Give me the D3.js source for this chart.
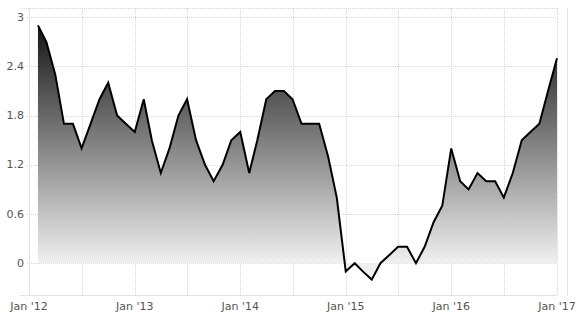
<!DOCTYPE html>
<html>
<head>
<meta charset="utf-8">
<script src="https://cdn.jsdelivr.net/npm/d3@7"></script>
<style>
    body { margin: 0; background: #fff; }
    svg text { font-family: "DejaVu Sans", sans-serif; font-size: 11px; fill: #555; }
</style>
</head>
<body>
<div id="chart"></div>
<script>
// monthly values, Feb 2012 .. Jan 2017
var startMonth = [2012, 1];
var values = [
    2.9, 2.7, 2.3, 1.7, 1.7, 1.4, 1.7, 2.0, 2.2, 1.8, 1.7,
    1.6, 2.0, 1.5, 1.1, 1.4, 1.8, 2.0, 1.5, 1.2, 1.0, 1.2, 1.5,
    1.6, 1.1, 1.5, 2.0, 2.1, 2.1, 2.0, 1.7, 1.7, 1.7, 1.3, 0.8,
    -0.1, 0.0, -0.1, -0.2, 0.0, 0.1, 0.2, 0.2, 0.0, 0.2, 0.5, 0.7,
    1.4, 1.0, 0.9, 1.1, 1.0, 1.0, 0.8, 1.1, 1.5, 1.6, 1.7, 2.1,
    2.5
];
var yTicks = [0, 0.6, 1.2, 1.8, 2.4, 3];
var yTickLabels = ['0', '0.6', '1.2', '1.8', '2.4', '3'];
var xTickYears = [2012, 2013, 2014, 2015, 2016, 2017];
var xTickLabels = ["Jan '12", "Jan '13", "Jan '14", "Jan '15", "Jan '16", "Jan '17"];

var width = 581, height = 316;
var plotLeft = 29, plotRight = 557, plotTop = 8, plotBottom = 296;

var data = values.map(function (v, i) {
    return {date: new Date(startMonth[0], startMonth[1] + i, 1), value: v};
});

var svg = d3.select('#chart').append('svg')
    .attr('width', width)
    .attr('height', height);

var x = d3.scaleTime()
    .domain([new Date(2012, 0, 1), new Date(2017, 0, 1)])
    .range([plotLeft, plotRight]);

var y = d3.scaleLinear()
    .domain([-0.4, 3.1])
    .range([plotBottom, plotTop + 1]);

var grad = svg.append('defs').append('linearGradient')
    .attr('id', 'fillgrad')
    .attr('gradientUnits', 'userSpaceOnUse')
    .attr('x1', 0).attr('x2', 0)
    .attr('y1', y(3)).attr('y2', y(0));
grad.append('stop').attr('offset', '0%').attr('stop-color', '#0e0e0e');
grad.append('stop').attr('offset', '100%').attr('stop-color', '#f0f0f0');

// grid
var grid = svg.append('g')
    .attr('stroke', '#d6d6d6')
    .attr('stroke-dasharray', '1,1')
    .attr('shape-rendering', 'crispEdges');

grid.append('line')
    .attr('x1', 20).attr('x2', plotRight)
    .attr('y1', plotTop + 0.5).attr('y2', plotTop + 0.5);

grid.selectAll('line.h')
    .data(yTicks)
    .enter().append('line')
    .attr('class', 'h')
    .attr('x1', 27).attr('x2', plotRight)
    .attr('y1', function (d) { return Math.round(y(d)) + 0.5; })
    .attr('y2', function (d) { return Math.round(y(d)) + 0.5; });

grid.selectAll('line.v')
    .data(d3.timeMonth.every(6).range(new Date(2012, 0, 1), new Date(2017, 0, 2)))
    .enter().append('line')
    .attr('class', 'v')
    .attr('x1', function (d) { return Math.round(x(d)) + 0.5; })
    .attr('x2', function (d) { return Math.round(x(d)) + 0.5; })
    .attr('y1', plotTop).attr('y2', plotBottom);

// frame lines
var frame = svg.append('g')
    .attr('stroke', '#e2e2e2')
    .attr('shape-rendering', 'crispEdges');
frame.append('line')
    .attr('x1', plotLeft + 0.5).attr('x2', plotLeft + 0.5)
    .attr('y1', plotTop).attr('y2', plotBottom);
frame.append('line')
    .attr('x1', 567.5).attr('x2', 567.5)
    .attr('y1', plotTop).attr('y2', plotBottom);
frame.append('line')
    .attr('x1', 20).attr('x2', plotRight)
    .attr('y1', plotBottom - 0.5).attr('y2', plotBottom - 0.5);

var area = d3.area()
    .x(function (d) { return x(d.date); })
    .y0(y(0))
    .y1(function (d) { return y(d.value); });

var line = d3.line()
    .x(function (d) { return x(d.date); })
    .y(function (d) { return y(d.value); });

svg.append('path')
    .datum(data)
    .attr('fill', 'url(#fillgrad)')
    .attr('d', area);

svg.append('path')
    .datum(data)
    .attr('fill', 'none')
    .attr('stroke', '#000')
    .attr('stroke-width', 2)
    .attr('stroke-linejoin', 'miter')
    .attr('d', line);

// labels
svg.selectAll('text.ylab')
    .data(yTicks)
    .enter().append('text')
    .attr('class', 'ylab')
    .attr('x', 24)
    .attr('y', function (d) { return y(d); })
    .attr('dy', '0.32em')
    .attr('text-anchor', 'end')
    .text(function (d, i) { return yTickLabels[i]; });

svg.selectAll('text.xlab')
    .data(xTickYears)
    .enter().append('text')
    .attr('class', 'xlab')
    .attr('x', function (d) { return x(new Date(d, 0, 1)); })
    .attr('y', 310)
    .attr('text-anchor', 'middle')
    .text(function (d, i) { return xTickLabels[i]; });
</script>
</body>
</html>
